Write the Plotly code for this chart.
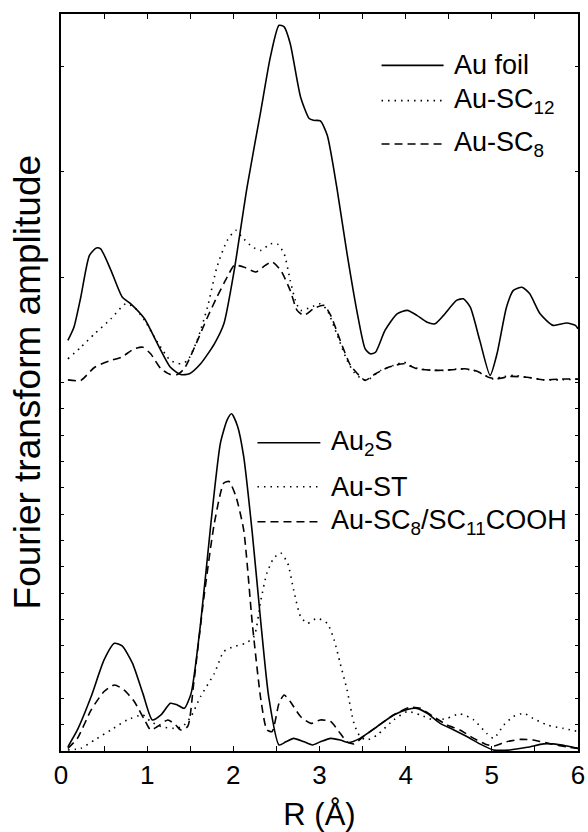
import plotly.graph_objects as go

# ---------------- data ----------------
# Upper group (displayed with a vertical offset)
upper_offset = 14.0

r_foil = [0.08, 0.15, 0.23, 0.33, 0.41, 0.46, 0.58, 0.71, 0.81, 0.97, 1.12, 1.27, 1.39, 1.49, 1.62, 1.78,
          1.89, 2.01, 2.16, 2.32, 2.43, 2.53, 2.59, 2.66, 2.78, 2.88, 2.93, 3.01, 3.09, 3.20, 3.32, 3.44,
          3.53, 3.59, 3.65, 3.76, 3.90, 4.02, 4.13, 4.25, 4.34, 4.44, 4.59, 4.67, 4.75, 4.86, 4.98, 5.06,
          5.17, 5.25, 5.35, 5.44, 5.56, 5.71, 5.87, 5.97, 6.00]
a_foil = [1.60, 2.10, 3.25, 4.83, 5.11, 5.08, 4.26, 3.25, 2.99, 2.42, 1.47, 0.58, 0.30, 0.33, 0.71, 1.47,
          2.23, 4.26, 7.43, 10.34, 12.37, 13.57, 13.51, 12.88, 10.85, 10.03, 9.96, 9.94, 9.39, 7.43, 4.89, 2.61,
          1.28, 1.09, 1.15, 1.98, 2.61, 2.74, 2.55, 2.29, 2.23, 2.55, 3.12, 3.18, 2.86, 1.60, 0.27, 1.09,
          2.86, 3.50, 3.62, 3.37, 2.61, 2.17, 2.26, 2.17, 2.04]

r_sc12 = [0.08, 0.23, 0.39, 0.58, 0.75, 0.85, 0.97, 1.12, 1.27, 1.39, 1.47, 1.58, 1.70, 1.81, 1.93, 2.03,
          2.10, 2.22, 2.32, 2.43, 2.51, 2.59, 2.66, 2.72, 2.78, 2.90, 3.01, 3.09, 3.20, 3.32, 3.40, 3.49,
          3.55, 3.71, 3.86, 3.98, 4.09, 4.25, 4.44, 4.63, 4.79, 4.92, 5.00, 5.10, 5.25, 5.41, 5.60, 5.79, 6.00]
a_sc12 = [0.90, 1.34, 1.85, 2.42, 2.99, 2.86, 2.36, 1.53, 0.84, 0.71, 0.84, 1.60, 2.86, 4.39, 5.40, 5.78,
          5.53, 5.15, 5.02, 5.27, 5.27, 4.89, 3.88, 3.12, 2.74, 2.86, 2.99, 2.74, 1.85, 0.84, 0.39, 0.14,
          0.08, 0.46, 0.65, 0.77, 0.58, 0.48, 0.46, 0.52, 0.46, 0.27, 0.14, 0.20, 0.27, 0.20, 0.10, 0.10, 0.13]

r_sc8 = [0.08, 0.23, 0.39, 0.58, 0.70, 0.85, 0.95, 1.04, 1.16, 1.27, 1.35, 1.43, 1.55, 1.70, 1.81, 1.93,
         2.01, 2.12, 2.26, 2.37, 2.45, 2.55, 2.66, 2.74, 2.82, 2.93, 3.05, 3.13, 3.24, 3.36, 3.46, 3.53,
         3.65, 3.80, 3.98, 4.13, 4.33, 4.52, 4.69, 4.83, 4.96, 5.06, 5.21, 5.41, 5.60, 5.79, 6.00]
a_sc8 = [0.10, 0.08, 0.58, 0.84, 0.96, 1.28, 1.34, 1.09, 0.52, 0.30, 0.30, 0.52, 1.34, 2.48, 3.25, 4.01,
         4.45, 4.39, 4.20, 4.45, 4.58, 4.26, 3.50, 2.74, 2.55, 2.80, 2.93, 2.55, 1.60, 0.65, 0.27, 0.08,
         0.33, 0.58, 0.71, 0.52, 0.46, 0.48, 0.52, 0.43, 0.20, 0.14, 0.23, 0.20, 0.10, 0.13, 0.13]

# Lower group
r_au2s = [0.08, 0.19, 0.35, 0.50, 0.62, 0.71, 0.83, 0.95, 1.06, 1.16, 1.27, 1.35, 1.43, 1.51, 1.62, 1.74,
          1.85, 1.93, 1.98, 2.05, 2.12, 2.22, 2.32, 2.41, 2.53, 2.61, 2.70, 2.82, 2.92, 3.01, 3.13, 3.24,
          3.34, 3.47, 3.67, 3.86, 4.02, 4.13, 4.25, 4.40, 4.56, 4.71, 4.86, 5.02, 5.21, 5.41, 5.60, 5.71,
          5.87, 6.00]
a_au2s = [0.16, 0.80, 2.07, 3.46, 4.09, 3.99, 3.33, 2.19, 1.18, 1.37, 1.81, 1.75, 1.62, 2.19, 4.85, 8.66,
          11.70, 12.59, 12.81, 12.33, 11.19, 8.28, 4.85, 2.07, 0.23, 0.35, 0.48, 0.35, 0.23, 0.35, 0.48, 0.42,
          0.32, 0.48, 0.93, 1.37, 1.58, 1.62, 1.43, 1.05, 0.80, 0.55, 0.27, 0.04, 0.04, 0.14, 0.27, 0.27,
          0.19, 0.10]

r_st = [0.08, 0.23, 0.39, 0.58, 0.77, 0.95, 1.04, 1.16, 1.31, 1.41, 1.51, 1.62, 1.78, 1.89, 2.01, 2.14,
        2.24, 2.32, 2.39, 2.47, 2.55, 2.63, 2.70, 2.78, 2.86, 2.97, 3.09, 3.17, 3.24, 3.32, 3.40, 3.47,
        3.55, 3.67, 3.86, 4.02, 4.17, 4.32, 4.48, 4.63, 4.79, 4.94, 5.02, 5.14, 5.25, 5.37, 5.48, 5.64,
        5.83, 6.00]
a_st = [0.04, 0.10, 0.42, 0.80, 1.18, 1.37, 1.12, 0.93, 0.86, 0.93, 1.31, 2.07, 2.95, 3.78, 3.97, 4.09,
        4.35, 5.74, 6.76, 7.33, 7.52, 7.14, 6.12, 5.11, 4.85, 5.04, 4.85, 4.22, 3.33, 2.32, 1.05, 0.55,
        0.42, 0.61, 1.18, 1.50, 1.37, 1.18, 1.24, 1.41, 1.18, 0.67, 0.48, 0.99, 1.31, 1.43, 1.24, 0.99,
        0.86, 0.74]

r_mix = [0.08, 0.19, 0.35, 0.50, 0.62, 0.73, 0.85, 0.97, 1.04, 1.12, 1.24, 1.33, 1.39, 1.47, 1.54, 1.66,
         1.78, 1.89, 1.95, 2.03, 2.12, 2.22, 2.32, 2.39, 2.45, 2.53, 2.59, 2.66, 2.78, 2.90, 3.01, 3.13,
         3.24, 3.32, 3.40, 3.51, 3.67, 3.86, 4.05, 4.17, 4.32, 4.48, 4.63, 4.79, 4.92, 5.02, 5.17, 5.33,
         5.48, 5.68, 5.87, 6.00]
a_mix = [0.10, 0.48, 1.56, 2.26, 2.51, 2.32, 1.88, 1.18, 0.80, 0.93, 1.18, 0.99, 0.80, 0.93, 2.57, 5.87,
         8.66, 10.18, 10.24, 9.67, 8.40, 4.85, 1.94, 0.80, 0.74, 1.81, 2.13, 1.88, 1.31, 1.05, 1.18, 1.12,
         0.67, 0.35, 0.27, 0.55, 0.93, 1.37, 1.66, 1.62, 1.31, 0.99, 0.80, 0.48, 0.27, 0.19, 0.35, 0.44,
         0.42, 0.27, 0.16, 0.10]

x_ticks = [0, 1, 2, 3, 4, 5, 6]
y_ticks = list(range(0, 15)) + [18, 22, 26]

# ---------------- styles ----------------
SOLID = "solid"
DOT = "1.5px,5px"
DASH = "8px,5px"
FONT = "Liberation Sans, Arial, sans-serif"

series = [
    (r_foil, a_foil, upper_offset, SOLID, "Au foil"),
    (r_sc12, a_sc12, upper_offset, DOT, "Au-SC<sub>12</sub>"),
    (r_sc8, a_sc8, upper_offset, DASH, "Au-SC<sub>8</sub>"),
    (r_au2s, a_au2s, 0.0, SOLID, "Au<sub>2</sub>S"),
    (r_st, a_st, 0.0, DOT, "Au-ST"),
    (r_mix, a_mix, 0.0, DASH, "Au-SC<sub>8</sub>/SC<sub>11</sub>COOH"),
]

fig = go.Figure()
for xs, ys, off, dash, name in series:
    fig.add_trace(go.Scatter(
        x=xs, y=[v + off for v in ys], mode="lines", name=name,
        line=dict(color="black", width=1.6, dash=dash, shape="spline", smoothing=0.6),
        showlegend=False, cliponaxis=True))

# hand-made legends (line sample + label), positioned in axis units
legend_groups = [
    (3.72, 4.44, 4.54, [26.05, 24.71, 23.06], series[0:3]),
    (2.28, 3.01, 3.11, [11.71, 10.04, 8.71], series[3:6]),
]
for x0, x1, xt, rows, items in legend_groups:
    for yrow, item in zip(rows, items):
        dash = item[3]
        fig.add_shape(type="line", xref="x", yref="y", x0=x0, x1=x1, y0=yrow, y1=yrow,
                      line=dict(color="black", width=1.6, dash=dash))
        fig.add_annotation(xref="x", yref="y", x=xt, y=yrow, text=item[4], showarrow=False,
                           xanchor="left", yanchor="middle",
                           font=dict(family=FONT, size=27, color="black"))

# y-axis title
fig.add_annotation(xref="paper", yref="paper", x=-0.064, y=0.5, text="Fourier transform amplitude",
                   showarrow=False, textangle=-90, xanchor="center", yanchor="middle",
                   font=dict(family=FONT, size=37, color="black"))

fig.update_layout(
    width=588, height=832,
    margin=dict(l=61, r=10, t=14, b=81, autoexpand=False),
    paper_bgcolor="white", plot_bgcolor="white",
    font=dict(family=FONT, color="black"),
    xaxis=dict(range=[0, 6], tickvals=x_ticks, ticks="inside", ticklen=5, automargin=False,
               tickwidth=1.2, tickcolor="black", showline=True, linecolor="black", linewidth=1.8,
               mirror="ticks", showgrid=False, zeroline=False,
               minor=dict(dtick=0.5, tick0=0, ticks="inside", ticklen=5, tickwidth=1.2,
                          tickcolor="black", showgrid=False),
               tickfont=dict(family=FONT, size=26, color="black"),
               title=dict(text="R (Å)", font=dict(family=FONT, size=31, color="black"), standoff=18)),
    yaxis=dict(range=[0, 28], tickvals=y_ticks, showticklabels=False, ticks="inside", ticklen=3,
               automargin=False,
               tickwidth=1.2, tickcolor="black", showline=True, linecolor="black", linewidth=1.8,
               mirror="ticks", showgrid=False, zeroline=False),
)

fig.write_html("out.html")
